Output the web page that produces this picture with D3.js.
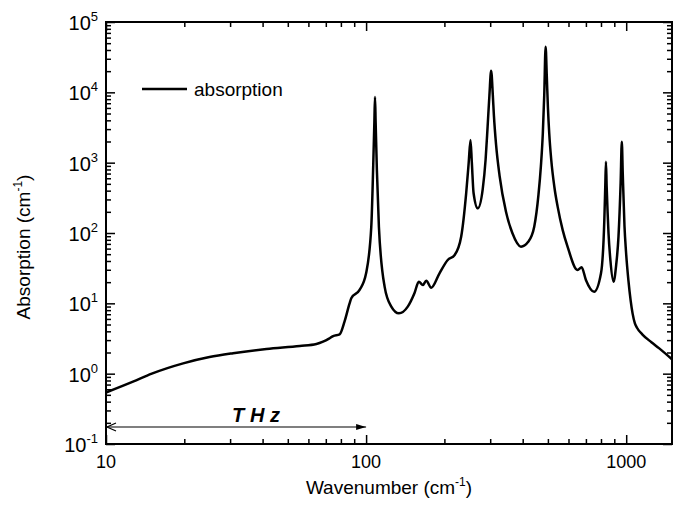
<!DOCTYPE html>
<html>
<head>
<meta charset="utf-8">
<script src="https://cdn.jsdelivr.net/npm/d3@7"></script>
<style>
body{margin:0;background:#fff;}
text{font-family:"Liberation Sans",Arial,sans-serif;fill:#000;}
</style>
</head>
<body>
<svg id="chart" width="675" height="508"></svg>
<script>
// wavenumber (cm-1) and absorption (cm-1)
var wavenumber = [10, 12.7, 15, 19.8, 25, 30.8, 41.4, 55.6, 64.4, 68.3, 72, 74.7, 79.1, 82.6, 86.4, 87.7, 94.4, 100, 104.7, 106.5, 107.6, 108.2, 108.8, 110, 112, 117.8, 125, 133.7, 144.6, 153.4, 159.5, 165.3, 170.3, 178, 191.5, 206, 219, 232, 242.5, 248, 252, 255, 259, 268.8, 280.8, 288, 293.2, 298, 302.5, 307, 310, 316, 326, 345, 365, 394, 420, 443, 460, 470, 478, 484, 490, 495, 500, 506, 515, 530, 545, 570, 595, 650, 674, 700, 753, 800, 824, 831, 836, 841, 848, 855, 870, 894, 915, 934, 952, 962, 970, 985, 998, 1020, 1040, 1058, 1080, 1100, 1155, 1250, 1340, 1500];
var absorption = [0.54, 0.77, 1.0, 1.40, 1.72, 1.95, 2.24, 2.47, 2.64, 2.85, 3.15, 3.43, 3.62, 5.5, 10, 11.8, 15.5, 26.7, 123, 900, 3800, 8600, 3800, 800, 123, 17.3, 8.97, 7.2, 8.97, 13.9, 20.3, 18.2, 21, 16.7, 26.7, 41.3, 48.7, 88.7, 367, 1000, 2100, 1000, 367, 224, 420, 1100, 3250, 9200, 20300, 9200, 4700, 1800, 650, 200, 100, 64, 75, 123, 350, 900, 2600, 9000, 44600, 17400, 6200, 2600, 1100, 440, 237, 110, 64, 29.8, 32.5, 21.5, 14.6, 26.7, 153, 470, 1030, 470, 200, 100, 40, 20.3, 35, 88.7, 520, 1990, 700, 125, 55, 21, 11, 7.2, 5.2, 4.5, 3.6, 2.8, 2.29, 1.6];

var xMajor = [10, 100, 1000];
var xMinor = [20, 30, 40, 50, 60, 70, 80, 90, 200, 300, 400, 500, 600, 700, 800, 900];
var yMajorExp = [-1, 0, 1, 2, 3, 4, 5];

var svg = d3.select("#chart");
var pLeft = 106, pRight = 672, pTop = 22, pBottom = 444;

var x = d3.scaleLog().domain([10, 1500]).range([pLeft, pRight]);
var y = d3.scaleLog().domain([0.1, 1e5]).range([pBottom, pTop]);

var yMinor = [];
yMajorExp.forEach(function(e){
	if (e < 5) {
		for (var k = 2; k <= 9; k++) yMinor.push(k * Math.pow(10, e));
	}
});
var yMajor = yMajorExp.map(function(e){ return Math.pow(10, e); });

// frame
svg.append("rect")
	.attr("x", pLeft).attr("y", pTop)
	.attr("width", pRight - pLeft).attr("height", pBottom - pTop)
	.attr("fill", "none").attr("stroke", "#000").attr("stroke-width", 2);

function ticks(axis, vals, len, pos){
	var g = svg.append("g")
		.attr("transform", pos)
		.call(axis.tickValues(vals).tickSize(len).tickFormat(""));
	g.select(".domain").remove();
	g.selectAll("line").attr("stroke", "#000").attr("stroke-width", 1.5);
}
// inward ticks on all four sides
ticks(d3.axisBottom(x), xMajor, -9, "translate(0," + pBottom + ")");
ticks(d3.axisBottom(x), xMinor, -5, "translate(0," + pBottom + ")");
ticks(d3.axisTop(x), xMajor, -9, "translate(0," + pTop + ")");
ticks(d3.axisTop(x), xMinor, -5, "translate(0," + pTop + ")");
ticks(d3.axisLeft(y), yMajor, -9, "translate(" + pLeft + ",0)");
ticks(d3.axisLeft(y), yMinor, -5, "translate(" + pLeft + ",0)");
ticks(d3.axisRight(y), yMajor, -9, "translate(" + pRight + ",0)");
ticks(d3.axisRight(y), yMinor, -5, "translate(" + pRight + ",0)");

// x tick labels
svg.selectAll(".xl").data(xMajor).enter().append("text")
	.attr("x", function(d){ return x(d); })
	.attr("y", pBottom + 24)
	.attr("text-anchor", "middle")
	.style("font-size", "18px")
	.text(function(d){ return d; });

// y tick labels 10^n
var yl = svg.selectAll(".yl").data(yMajorExp).enter().append("text")
	.attr("x", 98)
	.attr("y", function(d){ return y(Math.pow(10, d)) + 8; })
	.attr("text-anchor", "end")
	.style("font-size", "20px");
yl.append("tspan").text("10");
yl.append("tspan").attr("dy", -9).style("font-size", "13px").text(function(d){ return d; });

// axis titles
var xt = svg.append("text")
	.attr("x", (pLeft + pRight) / 2).attr("y", 494)
	.attr("text-anchor", "middle")
	.style("font-size", "19px");
xt.append("tspan").text("Wavenumber (cm");
xt.append("tspan").attr("dy", -8).style("font-size", "12px").text("-1");
xt.append("tspan").attr("dy", 8).text(")");

var yt = svg.append("text")
	.attr("transform", "translate(30,247) rotate(-90)")
	.attr("text-anchor", "middle")
	.style("font-size", "19px");
yt.append("tspan").text("Absorption (cm");
yt.append("tspan").attr("dy", -8).style("font-size", "12px").text("-1");
yt.append("tspan").attr("dy", 8).text(")");

// THz arrow
svg.append("defs").append("marker")
	.attr("id", "head")
	.attr("viewBox", "0 0 10 10").attr("refX", 10).attr("refY", 5)
	.attr("markerWidth", 10).attr("markerHeight", 10)
	.attr("markerUnits", "userSpaceOnUse")
	.attr("orient", "auto-start-reverse")
	.append("path").attr("d", "M0,2 L10,5 L0,8 Z").attr("fill", "#000");
svg.append("line")
	.attr("x1", x(10) + 1).attr("x2", x(100))
	.attr("y1", 427).attr("y2", 427)
	.attr("stroke", "#000").attr("stroke-width", 1.2)
	.attr("marker-end", "url(#head)");
svg.append("path")
	.attr("d", "M" + (x(10) + 10) + ",423 L" + (x(10) + 1) + ",427 L" + (x(10) + 10) + ",431")
	.attr("fill", "none").attr("stroke", "#000").attr("stroke-width", 1.2);
svg.append("text")
	.attr("x", 256).attr("y", 422)
	.attr("text-anchor", "middle")
	.style("font-size", "20px").style("font-weight", "bold").style("font-style", "italic")
	.text("T H z");

// spectrum
var pts = wavenumber.map(function(w, i){ return [w, absorption[i]]; });
var line = d3.line()
	.x(function(d){ return x(d[0]); })
	.y(function(d){ return y(d[1]); })
	.curve(d3.curveMonotoneX);
svg.append("path")
	.datum(pts)
	.attr("d", line)
	.attr("fill", "none")
	.attr("stroke", "#000")
	.attr("stroke-width", 2.5)
	.attr("stroke-linejoin", "round");

// legend
svg.append("line")
	.attr("x1", 142).attr("x2", 187).attr("y1", 89).attr("y2", 89)
	.attr("stroke", "#000").attr("stroke-width", 2.5);
svg.append("text")
	.attr("x", 194).attr("y", 96)
	.style("font-size", "19px")
	.text("absorption");
</script>
</body>
</html>
